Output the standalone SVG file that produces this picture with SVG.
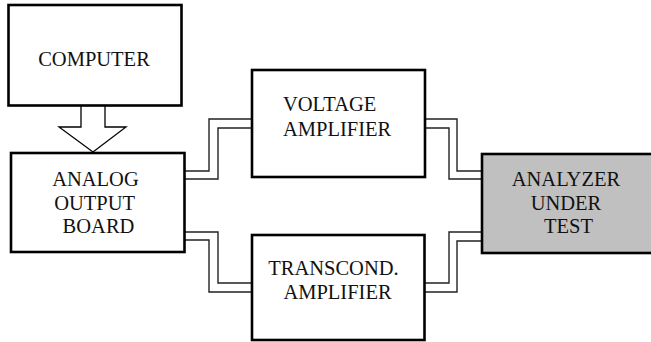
<svg xmlns="http://www.w3.org/2000/svg" width="651" height="342" viewBox="0 0 651 342">
  <style>
    .box { fill: #ffffff; stroke: #000000; stroke-width: 2.6; }
    .dut { fill: #c0c0c0; stroke: #000000; stroke-width: 2.6; }
    .wire { fill: none; stroke: #222222; stroke-width: 1.4; }
    .bus { fill: #ffffff; stroke: #000000; stroke-width: 1.3; stroke-linejoin: miter; }
    .label { font-family: "Liberation Serif", "Times New Roman", "DejaVu Serif", serif; font-size: 20.5px; fill: #111111; }
  </style>
  <rect width="651" height="342" fill="#ffffff"/>

  <g id="connectors">
    <!-- data bus from computer to output board -->
    <path class="bus" d="M81 105 V127 H59 L93 152 L126 127 H105 V105"/>
    <!-- board to voltage amplifier (two wires) -->
    <path class="wire" d="M185 171 H209 V119 H252"/>
    <path class="wire" d="M185 179 H218 V128 H252"/>
    <!-- board to transconductance amplifier -->
    <path class="wire" d="M185 232 H218 V283 H252"/>
    <path class="wire" d="M185 240 H209 V292 H252"/>
    <!-- voltage amplifier to analyzer -->
    <path class="wire" d="M425 119 H457 V171 H482"/>
    <path class="wire" d="M425 128 H449 V179 H482"/>
    <!-- transconductance amplifier to analyzer -->
    <path class="wire" d="M482 232 H449 V283 H425"/>
    <path class="wire" d="M482 241 H457 V292 H425"/>
  </g>

  <g id="computer">
    <rect class="box" x="8.5" y="5" width="173" height="100.5"/>
    <text class="label" x="94" y="66" text-anchor="middle">COMPUTER</text>
  </g>

  <g id="analog-output-board">
    <rect class="box" x="11" y="153" width="173.5" height="99"/>
    <text class="label" text-anchor="middle">
      <tspan x="98" y="186">ANALOG</tspan>
      <tspan x="97" y="209.5">OUTPUT</tspan>
      <tspan x="98.5" y="233">BOARD</tspan>
    </text>
  </g>

  <g id="voltage-amplifier">
    <rect class="box" x="252" y="70" width="173" height="107"/>
    <text class="label">
      <tspan x="283" y="111">VOLTAGE</tspan>
      <tspan x="283" y="136">AMPLIFIER</tspan>
    </text>
  </g>

  <g id="transcond-amplifier">
    <rect class="box" x="252" y="235" width="172.5" height="105"/>
    <text class="label" text-anchor="middle">
      <tspan x="336" y="275">TRANSCOND.</tspan>
      <tspan x="337.5" y="299">AMPLIFIER</tspan>
    </text>
  </g>

  <g id="analyzer-under-test">
    <rect class="dut" x="482" y="154" width="175" height="99"/>
    <text class="label" text-anchor="middle">
      <tspan x="568.5" y="186">ANALYZER</tspan>
      <tspan x="568.5" y="209.5">UNDER</tspan>
      <tspan x="568.5" y="233">TEST</tspan>
    </text>
  </g>
</svg>
